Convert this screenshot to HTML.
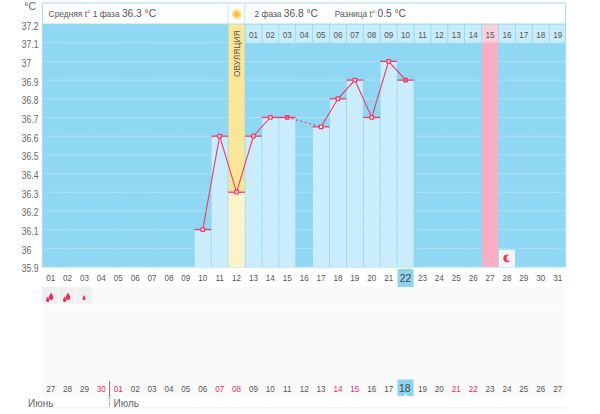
<!DOCTYPE html>
<html><head><meta charset="utf-8"><style>
html,body{margin:0;padding:0;background:#fff;width:600px;height:414px;overflow:hidden;font-family:"Liberation Sans",sans-serif}
</style></head><body>
<div style="position:relative;width:600px;height:414px">
<svg width="600" height="414" viewBox="0 0 600 414" style="position:absolute;left:0;top:0">
<rect x="42" y="24.0" width="524" height="243.47" fill="#8fd7f2"/>
<line x1="42" y1="42.69" x2="566" y2="42.69" stroke="#eefaff" stroke-width="1" stroke-dasharray="1 1.75" opacity="0.85"/>
<line x1="42" y1="61.38" x2="566" y2="61.38" stroke="#eefaff" stroke-width="1" stroke-dasharray="1 1.75" opacity="0.85"/>
<line x1="42" y1="80.07" x2="566" y2="80.07" stroke="#eefaff" stroke-width="1" stroke-dasharray="1 1.75" opacity="0.85"/>
<line x1="42" y1="98.76" x2="566" y2="98.76" stroke="#eefaff" stroke-width="1" stroke-dasharray="1 1.75" opacity="0.85"/>
<line x1="42" y1="117.45" x2="566" y2="117.45" stroke="#eefaff" stroke-width="1" stroke-dasharray="1 1.75" opacity="0.85"/>
<line x1="42" y1="136.14" x2="566" y2="136.14" stroke="#eefaff" stroke-width="1" stroke-dasharray="1 1.75" opacity="0.85"/>
<line x1="42" y1="154.83" x2="566" y2="154.83" stroke="#eefaff" stroke-width="1" stroke-dasharray="1 1.75" opacity="0.85"/>
<line x1="42" y1="173.52" x2="566" y2="173.52" stroke="#eefaff" stroke-width="1" stroke-dasharray="1 1.75" opacity="0.85"/>
<line x1="42" y1="192.21" x2="566" y2="192.21" stroke="#eefaff" stroke-width="1" stroke-dasharray="1 1.75" opacity="0.85"/>
<line x1="42" y1="210.90" x2="566" y2="210.90" stroke="#eefaff" stroke-width="1" stroke-dasharray="1 1.75" opacity="0.85"/>
<line x1="42" y1="229.59" x2="566" y2="229.59" stroke="#eefaff" stroke-width="1" stroke-dasharray="1 1.75" opacity="0.85"/>
<line x1="42" y1="248.28" x2="566" y2="248.28" stroke="#eefaff" stroke-width="1" stroke-dasharray="1 1.75" opacity="0.85"/>
<line x1="42" y1="266.97" x2="566" y2="266.97" stroke="#eefaff" stroke-width="1" stroke-dasharray="1 1.75" opacity="0.85"/>
<rect x="228.50" y="24.0" width="16.10" height="242.97" fill="#fbe698"/>
<rect x="482.00" y="24.0" width="16.10" height="242.97" fill="#f8aec3"/>
<rect x="245.40" y="24.5" width="16.10" height="18.19" fill="#c9ecfa"/>
<rect x="262.30" y="24.5" width="16.10" height="18.19" fill="#c9ecfa"/>
<rect x="279.20" y="24.5" width="16.10" height="18.19" fill="#c9ecfa"/>
<rect x="296.10" y="24.5" width="16.10" height="18.19" fill="#c9ecfa"/>
<rect x="313.00" y="24.5" width="16.10" height="18.19" fill="#c9ecfa"/>
<rect x="329.90" y="24.5" width="16.10" height="18.19" fill="#c9ecfa"/>
<rect x="346.80" y="24.5" width="16.10" height="18.19" fill="#c9ecfa"/>
<rect x="363.70" y="24.5" width="16.10" height="18.19" fill="#c9ecfa"/>
<rect x="380.60" y="24.5" width="16.10" height="18.19" fill="#c9ecfa"/>
<rect x="397.50" y="24.5" width="16.10" height="18.19" fill="#c9ecfa"/>
<rect x="414.40" y="24.5" width="16.10" height="18.19" fill="#c9ecfa"/>
<rect x="431.30" y="24.5" width="16.10" height="18.19" fill="#c9ecfa"/>
<rect x="448.20" y="24.5" width="16.10" height="18.19" fill="#c9ecfa"/>
<rect x="465.10" y="24.5" width="16.10" height="18.19" fill="#c9ecfa"/>
<rect x="482.00" y="24.5" width="16.10" height="18.19" fill="#fbd1dc"/>
<rect x="498.90" y="24.5" width="16.10" height="18.19" fill="#c9ecfa"/>
<rect x="515.80" y="24.5" width="16.10" height="18.19" fill="#c9ecfa"/>
<rect x="532.70" y="24.5" width="16.10" height="18.19" fill="#c9ecfa"/>
<rect x="549.60" y="24.5" width="16.10" height="18.19" fill="#c9ecfa"/>
<rect x="194.70" y="229.59" width="16.10" height="37.38" fill="#cbedfb"/>
<rect x="211.60" y="136.14" width="16.10" height="130.83" fill="#cbedfb"/>
<rect x="228.50" y="192.21" width="16.10" height="74.76" fill="#fcf3cb"/>
<rect x="245.40" y="136.14" width="16.10" height="130.83" fill="#cbedfb"/>
<rect x="262.30" y="117.45" width="16.10" height="149.52" fill="#cbedfb"/>
<rect x="279.20" y="117.45" width="16.10" height="149.52" fill="#cbedfb"/>
<rect x="313.00" y="126.80" width="16.10" height="140.18" fill="#cbedfb"/>
<rect x="329.90" y="98.76" width="16.10" height="168.21" fill="#cbedfb"/>
<rect x="346.80" y="80.07" width="16.10" height="186.90" fill="#cbedfb"/>
<rect x="363.70" y="117.45" width="16.10" height="149.52" fill="#cbedfb"/>
<rect x="380.60" y="61.38" width="16.10" height="205.59" fill="#cbedfb"/>
<rect x="397.50" y="80.07" width="16.10" height="186.90" fill="#cbedfb"/>
<rect x="498.90" y="249.78" width="16.10" height="17.19" fill="#f5f4f4"/>
<circle cx="507.20" cy="258.30" r="3.9" fill="#ee3a6a"/>
<circle cx="509.50" cy="258.00" r="2.9" fill="#f5f4f4"/>
<line x1="194.30" y1="229.59" x2="211.20" y2="229.59" stroke="#ee3b68" stroke-width="1.3"/>
<line x1="211.20" y1="136.14" x2="228.10" y2="136.14" stroke="#ee3b68" stroke-width="1.3"/>
<line x1="228.10" y1="192.21" x2="245.00" y2="192.21" stroke="#ee3b68" stroke-width="1.3"/>
<line x1="245.00" y1="136.14" x2="261.90" y2="136.14" stroke="#ee3b68" stroke-width="1.3"/>
<line x1="261.90" y1="117.45" x2="278.80" y2="117.45" stroke="#ee3b68" stroke-width="1.3"/>
<line x1="278.80" y1="117.45" x2="295.70" y2="117.45" stroke="#ee3b68" stroke-width="1.3"/>
<line x1="312.60" y1="126.80" x2="329.50" y2="126.80" stroke="#ee3b68" stroke-width="1.3"/>
<line x1="329.50" y1="98.76" x2="346.40" y2="98.76" stroke="#ee3b68" stroke-width="1.3"/>
<line x1="346.40" y1="80.07" x2="363.30" y2="80.07" stroke="#ee3b68" stroke-width="1.3"/>
<line x1="363.30" y1="117.45" x2="380.20" y2="117.45" stroke="#ee3b68" stroke-width="1.3"/>
<line x1="380.20" y1="61.38" x2="397.10" y2="61.38" stroke="#ee3b68" stroke-width="1.3"/>
<line x1="397.10" y1="80.07" x2="414.00" y2="80.07" stroke="#ee3b68" stroke-width="1.3"/>
<polyline points="202.75,229.59 219.65,136.14 236.55,192.21 253.45,136.14 270.35,117.45 287.25,117.45" fill="none" stroke="#ee3b68" stroke-width="1.1"/>
<polyline points="321.05,126.80 337.95,98.76 354.85,80.07 371.75,117.45 388.65,61.38 405.55,80.07" fill="none" stroke="#ee3b68" stroke-width="1.1"/>
<line x1="287.25" y1="117.45" x2="321.05" y2="126.80" stroke="#ee3b68" stroke-width="1.1" stroke-dasharray="2 2.5"/>
<rect x="200.35" y="227.19" width="4.8" height="4.8" rx="1" fill="#ee3b68"/>
<rect x="201.65" y="228.49" width="2.2" height="2.2" fill="#fff"/>
<rect x="217.25" y="133.74" width="4.8" height="4.8" rx="1" fill="#ee3b68"/>
<rect x="218.55" y="135.04" width="2.2" height="2.2" fill="#fff"/>
<rect x="234.15" y="189.81" width="4.8" height="4.8" rx="1" fill="#ee3b68"/>
<rect x="235.45" y="191.11" width="2.2" height="2.2" fill="#fff"/>
<rect x="251.05" y="133.74" width="4.8" height="4.8" rx="1" fill="#ee3b68"/>
<rect x="252.35" y="135.04" width="2.2" height="2.2" fill="#fff"/>
<rect x="267.95" y="115.05" width="4.8" height="4.8" rx="1" fill="#ee3b68"/>
<rect x="269.25" y="116.35" width="2.2" height="2.2" fill="#fff"/>
<rect x="284.85" y="115.05" width="4.8" height="4.8" rx="1" fill="#ee3b68"/>
<rect x="286.15" y="116.35" width="2.2" height="2.2" fill="#f47096"/>
<rect x="318.65" y="124.40" width="4.8" height="4.8" rx="1" fill="#ee3b68"/>
<rect x="319.95" y="125.70" width="2.2" height="2.2" fill="#fff"/>
<rect x="335.55" y="96.36" width="4.8" height="4.8" rx="1" fill="#ee3b68"/>
<rect x="336.85" y="97.66" width="2.2" height="2.2" fill="#fff"/>
<rect x="352.45" y="77.67" width="4.8" height="4.8" rx="1" fill="#ee3b68"/>
<rect x="353.75" y="78.97" width="2.2" height="2.2" fill="#fff"/>
<rect x="369.35" y="115.05" width="4.8" height="4.8" rx="1" fill="#ee3b68"/>
<rect x="370.65" y="116.35" width="2.2" height="2.2" fill="#fff"/>
<rect x="386.25" y="58.98" width="4.8" height="4.8" rx="1" fill="#ee3b68"/>
<rect x="387.55" y="60.28" width="2.2" height="2.2" fill="#fff"/>
<rect x="403.15" y="77.67" width="4.8" height="4.8" rx="1" fill="#ee3b68"/>
<rect x="404.45" y="78.97" width="2.2" height="2.2" fill="#f47096"/>
<rect x="42.5" y="3" width="523" height="21.00" fill="#fff" stroke="#a3dcf4" stroke-width="1"/>
<line x1="227.90" y1="3.5" x2="227.90" y2="24.0" stroke="#bde6f7" stroke-width="1"/>
<line x1="244.80" y1="3.5" x2="244.80" y2="24.0" stroke="#bde6f7" stroke-width="1"/>
<circle cx="236.80" cy="14.2" r="5.2" fill="#fdeab0"/>
<circle cx="236.80" cy="14.2" r="4.0" fill="none" stroke="#f9d476" stroke-width="1" stroke-dasharray="1 1"/>
<circle cx="236.80" cy="14.2" r="2.9" fill="#f5c141"/>
<line x1="42.5" y1="24.0" x2="42.5" y2="266.97" stroke="#a3dcf4" stroke-width="1"/>
<line x1="565.5" y1="24.0" x2="565.5" y2="266.97" stroke="#a3dcf4" stroke-width="1"/>
<text transform="translate(239.85,77) rotate(-90)" font-family="Liberation Sans" font-size="9.6" fill="#555" textLength="46.5" lengthAdjust="spacingAndGlyphs">ОВУЛЯЦИЯ</text>
<rect x="397.50" y="269" width="16.10" height="18" fill="#8fd4ef"/>
<rect x="42" y="287" width="524" height="110" fill="#fafafa"/>
<rect x="42.30" y="287" width="15.6" height="16.6" fill="#efefef"/>
<rect x="59.20" y="287" width="15.6" height="16.6" fill="#efefef"/>
<rect x="76.10" y="287" width="15.6" height="16.6" fill="#efefef"/>
<line x1="42" y1="304.7" x2="566" y2="304.7" stroke="#fff" stroke-width="1"/>
<rect x="397.50" y="379.5" width="16.10" height="16.5" fill="#8fd4ef"/>
<path d="M403.55,396 L405.55,394 L407.55,396Z" fill="#fff"/>
<path d="M51.10,292.50 C51.70,294.00 53.50,296.16 53.50,297.60 A2.40,2.40 0 0 1 48.70,297.60 C48.70,296.16 50.50,294.00 51.10,292.50Z" fill="#ef2a5c"/>
<path d="M47.75,296.50 C48.35,298.00 49.50,299.15 49.50,300.20 A1.75,1.75 0 0 1 46.00,300.20 C46.00,299.15 47.15,298.00 47.75,296.50Z" fill="#ef2a5c"/>
<path d="M68.00,292.50 C68.60,294.00 70.40,296.16 70.40,297.60 A2.40,2.40 0 0 1 65.60,297.60 C65.60,296.16 67.40,294.00 68.00,292.50Z" fill="#ef2a5c"/>
<path d="M64.65,296.50 C65.25,298.00 66.40,299.15 66.40,300.20 A1.75,1.75 0 0 1 62.90,300.20 C62.90,299.15 64.05,298.00 64.65,296.50Z" fill="#ef2a5c"/>
<path d="M84.00,295.00 C84.60,296.50 85.50,297.60 85.50,298.50 A1.50,1.50 0 0 1 82.50,298.50 C82.50,297.60 83.40,296.50 84.00,295.00Z" fill="#ef2a5c"/>
<line x1="109.6" y1="381" x2="109.6" y2="397" stroke="#777" stroke-width="1"/>
<line x1="109.6" y1="398" x2="109.6" y2="408" stroke="#777" stroke-width="1" stroke-dasharray="1 1.5"/>
<line x1="42" y1="407.8" x2="566" y2="407.8" stroke="#eee" stroke-width="1"/>
</svg>
<svg width="600" height="414" style="position:absolute;left:0;top:0" font-family="Liberation Sans"><text transform="translate(21.80,29.50) scale(0.84,1)" font-size="10.2" fill="#666" text-anchor="start" >37.2</text>
<text transform="translate(21.80,48.19) scale(0.84,1)" font-size="10.2" fill="#666" text-anchor="start" >37.1</text>
<text transform="translate(21.80,66.88) scale(0.84,1)" font-size="10.2" fill="#666" text-anchor="start" >37</text>
<text transform="translate(21.80,85.57) scale(0.84,1)" font-size="10.2" fill="#666" text-anchor="start" >36.9</text>
<text transform="translate(21.80,104.26) scale(0.84,1)" font-size="10.2" fill="#666" text-anchor="start" >36.8</text>
<text transform="translate(21.80,122.95) scale(0.84,1)" font-size="10.2" fill="#666" text-anchor="start" >36.7</text>
<text transform="translate(21.80,141.64) scale(0.84,1)" font-size="10.2" fill="#666" text-anchor="start" >36.6</text>
<text transform="translate(21.80,160.33) scale(0.84,1)" font-size="10.2" fill="#666" text-anchor="start" >36.5</text>
<text transform="translate(21.80,179.02) scale(0.84,1)" font-size="10.2" fill="#666" text-anchor="start" >36.4</text>
<text transform="translate(21.80,197.71) scale(0.84,1)" font-size="10.2" fill="#666" text-anchor="start" >36.3</text>
<text transform="translate(21.80,216.40) scale(0.84,1)" font-size="10.2" fill="#666" text-anchor="start" >36.2</text>
<text transform="translate(21.80,235.09) scale(0.84,1)" font-size="10.2" fill="#666" text-anchor="start" >36.1</text>
<text transform="translate(21.80,253.78) scale(0.84,1)" font-size="10.2" fill="#666" text-anchor="start" >36</text>
<text transform="translate(21.80,272.47) scale(0.84,1)" font-size="10.2" fill="#666" text-anchor="start" >35.9</text>
<text transform="translate(36.00,10.20) scale(1.0,1)" font-size="10.5" fill="#666" text-anchor="end" >°C</text>
<text x="48.6" y="17.2" fill="#555"><tspan font-size="8.4">Средняя t° 1 фаза </tspan><tspan font-size="10.2">36.3 °C</tspan></text>
<text x="254.5" y="17.2" fill="#555"><tspan font-size="8.4">2 фаза </tspan><tspan font-size="10.2">36.8 °C</tspan></text>
<text x="334.7" y="17.2" fill="#555"><tspan font-size="8.4">Разница t° </tspan><tspan font-size="10.2">0.5 °C</tspan></text>
<text transform="translate(253.45,38.30) scale(0.82,1)" font-size="9.9" fill="#555" text-anchor="middle" >01</text>
<text transform="translate(270.35,38.30) scale(0.82,1)" font-size="9.9" fill="#555" text-anchor="middle" >02</text>
<text transform="translate(287.25,38.30) scale(0.82,1)" font-size="9.9" fill="#555" text-anchor="middle" >03</text>
<text transform="translate(304.15,38.30) scale(0.82,1)" font-size="9.9" fill="#555" text-anchor="middle" >04</text>
<text transform="translate(321.05,38.30) scale(0.82,1)" font-size="9.9" fill="#555" text-anchor="middle" >05</text>
<text transform="translate(337.95,38.30) scale(0.82,1)" font-size="9.9" fill="#555" text-anchor="middle" >06</text>
<text transform="translate(354.85,38.30) scale(0.82,1)" font-size="9.9" fill="#555" text-anchor="middle" >07</text>
<text transform="translate(371.75,38.30) scale(0.82,1)" font-size="9.9" fill="#555" text-anchor="middle" >08</text>
<text transform="translate(388.65,38.30) scale(0.82,1)" font-size="9.9" fill="#555" text-anchor="middle" >09</text>
<text transform="translate(405.55,38.30) scale(0.82,1)" font-size="9.9" fill="#555" text-anchor="middle" >10</text>
<text transform="translate(422.45,38.30) scale(0.82,1)" font-size="9.9" fill="#555" text-anchor="middle" >11</text>
<text transform="translate(439.35,38.30) scale(0.82,1)" font-size="9.9" fill="#555" text-anchor="middle" >12</text>
<text transform="translate(456.25,38.30) scale(0.82,1)" font-size="9.9" fill="#555" text-anchor="middle" >13</text>
<text transform="translate(473.15,38.30) scale(0.82,1)" font-size="9.9" fill="#555" text-anchor="middle" >14</text>
<text transform="translate(490.05,38.30) scale(0.82,1)" font-size="9.9" fill="#555" text-anchor="middle" >15</text>
<text transform="translate(506.95,38.30) scale(0.82,1)" font-size="9.9" fill="#555" text-anchor="middle" >16</text>
<text transform="translate(523.85,38.30) scale(0.82,1)" font-size="9.9" fill="#555" text-anchor="middle" >17</text>
<text transform="translate(540.75,38.30) scale(0.82,1)" font-size="9.9" fill="#555" text-anchor="middle" >18</text>
<text transform="translate(557.65,38.30) scale(0.82,1)" font-size="9.9" fill="#555" text-anchor="middle" >19</text>
<text transform="translate(50.65,281.20) scale(0.82,1)" font-size="9.9" fill="#555" text-anchor="middle" >01</text>
<text transform="translate(67.55,281.20) scale(0.82,1)" font-size="9.9" fill="#555" text-anchor="middle" >02</text>
<text transform="translate(84.45,281.20) scale(0.82,1)" font-size="9.9" fill="#555" text-anchor="middle" >03</text>
<text transform="translate(101.35,281.20) scale(0.82,1)" font-size="9.9" fill="#555" text-anchor="middle" >04</text>
<text transform="translate(118.25,281.20) scale(0.82,1)" font-size="9.9" fill="#555" text-anchor="middle" >05</text>
<text transform="translate(135.15,281.20) scale(0.82,1)" font-size="9.9" fill="#555" text-anchor="middle" >06</text>
<text transform="translate(152.05,281.20) scale(0.82,1)" font-size="9.9" fill="#555" text-anchor="middle" >07</text>
<text transform="translate(168.95,281.20) scale(0.82,1)" font-size="9.9" fill="#555" text-anchor="middle" >08</text>
<text transform="translate(185.85,281.20) scale(0.82,1)" font-size="9.9" fill="#555" text-anchor="middle" >09</text>
<text transform="translate(202.75,281.20) scale(0.82,1)" font-size="9.9" fill="#555" text-anchor="middle" >10</text>
<text transform="translate(219.65,281.20) scale(0.82,1)" font-size="9.9" fill="#555" text-anchor="middle" >11</text>
<text transform="translate(236.55,281.20) scale(0.82,1)" font-size="9.9" fill="#555" text-anchor="middle" >12</text>
<text transform="translate(253.45,281.20) scale(0.82,1)" font-size="9.9" fill="#555" text-anchor="middle" >13</text>
<text transform="translate(270.35,281.20) scale(0.82,1)" font-size="9.9" fill="#555" text-anchor="middle" >14</text>
<text transform="translate(287.25,281.20) scale(0.82,1)" font-size="9.9" fill="#555" text-anchor="middle" >15</text>
<text transform="translate(304.15,281.20) scale(0.82,1)" font-size="9.9" fill="#555" text-anchor="middle" >16</text>
<text transform="translate(321.05,281.20) scale(0.82,1)" font-size="9.9" fill="#555" text-anchor="middle" >17</text>
<text transform="translate(337.95,281.20) scale(0.82,1)" font-size="9.9" fill="#555" text-anchor="middle" >18</text>
<text transform="translate(354.85,281.20) scale(0.82,1)" font-size="9.9" fill="#555" text-anchor="middle" >19</text>
<text transform="translate(371.75,281.20) scale(0.82,1)" font-size="9.9" fill="#555" text-anchor="middle" >20</text>
<text transform="translate(388.65,281.20) scale(0.82,1)" font-size="9.9" fill="#555" text-anchor="middle" >21</text>
<text transform="translate(405.55,281.50) scale(1.0,1)" font-size="10.5" fill="#444" text-anchor="middle" >22</text>
<text transform="translate(422.45,281.20) scale(0.82,1)" font-size="9.9" fill="#555" text-anchor="middle" >23</text>
<text transform="translate(439.35,281.20) scale(0.82,1)" font-size="9.9" fill="#555" text-anchor="middle" >24</text>
<text transform="translate(456.25,281.20) scale(0.82,1)" font-size="9.9" fill="#555" text-anchor="middle" >25</text>
<text transform="translate(473.15,281.20) scale(0.82,1)" font-size="9.9" fill="#555" text-anchor="middle" >26</text>
<text transform="translate(490.05,281.20) scale(0.82,1)" font-size="9.9" fill="#555" text-anchor="middle" >27</text>
<text transform="translate(506.95,281.20) scale(0.82,1)" font-size="9.9" fill="#555" text-anchor="middle" >28</text>
<text transform="translate(523.85,281.20) scale(0.82,1)" font-size="9.9" fill="#555" text-anchor="middle" >29</text>
<text transform="translate(540.75,281.20) scale(0.82,1)" font-size="9.9" fill="#555" text-anchor="middle" >30</text>
<text transform="translate(557.65,281.20) scale(0.82,1)" font-size="9.9" fill="#555" text-anchor="middle" >31</text>
<text transform="translate(50.65,392.00) scale(0.82,1)" font-size="9.9" fill="#555" text-anchor="middle" >27</text>
<text transform="translate(67.55,392.00) scale(0.82,1)" font-size="9.9" fill="#555" text-anchor="middle" >28</text>
<text transform="translate(84.45,392.00) scale(0.82,1)" font-size="9.9" fill="#555" text-anchor="middle" >29</text>
<text transform="translate(101.35,392.00) scale(0.82,1)" font-size="9.9" fill="#ef2a5c" text-anchor="middle" >30</text>
<text transform="translate(118.25,392.00) scale(0.82,1)" font-size="9.9" fill="#ef2a5c" text-anchor="middle" >01</text>
<text transform="translate(135.15,392.00) scale(0.82,1)" font-size="9.9" fill="#555" text-anchor="middle" >02</text>
<text transform="translate(152.05,392.00) scale(0.82,1)" font-size="9.9" fill="#555" text-anchor="middle" >03</text>
<text transform="translate(168.95,392.00) scale(0.82,1)" font-size="9.9" fill="#555" text-anchor="middle" >04</text>
<text transform="translate(185.85,392.00) scale(0.82,1)" font-size="9.9" fill="#555" text-anchor="middle" >05</text>
<text transform="translate(202.75,392.00) scale(0.82,1)" font-size="9.9" fill="#555" text-anchor="middle" >06</text>
<text transform="translate(219.65,392.00) scale(0.82,1)" font-size="9.9" fill="#ef2a5c" text-anchor="middle" >07</text>
<text transform="translate(236.55,392.00) scale(0.82,1)" font-size="9.9" fill="#ef2a5c" text-anchor="middle" >08</text>
<text transform="translate(253.45,392.00) scale(0.82,1)" font-size="9.9" fill="#555" text-anchor="middle" >09</text>
<text transform="translate(270.35,392.00) scale(0.82,1)" font-size="9.9" fill="#555" text-anchor="middle" >10</text>
<text transform="translate(287.25,392.00) scale(0.82,1)" font-size="9.9" fill="#555" text-anchor="middle" >11</text>
<text transform="translate(304.15,392.00) scale(0.82,1)" font-size="9.9" fill="#555" text-anchor="middle" >12</text>
<text transform="translate(321.05,392.00) scale(0.82,1)" font-size="9.9" fill="#555" text-anchor="middle" >13</text>
<text transform="translate(337.95,392.00) scale(0.82,1)" font-size="9.9" fill="#ef2a5c" text-anchor="middle" >14</text>
<text transform="translate(354.85,392.00) scale(0.82,1)" font-size="9.9" fill="#ef2a5c" text-anchor="middle" >15</text>
<text transform="translate(371.75,392.00) scale(0.82,1)" font-size="9.9" fill="#555" text-anchor="middle" >16</text>
<text transform="translate(388.65,392.00) scale(0.82,1)" font-size="9.9" fill="#555" text-anchor="middle" >17</text>
<text transform="translate(404.75,392.00) scale(1.0,1)" font-size="10.5" fill="#444" text-anchor="middle" >18</text>
<text transform="translate(422.45,392.00) scale(0.82,1)" font-size="9.9" fill="#555" text-anchor="middle" >19</text>
<text transform="translate(439.35,392.00) scale(0.82,1)" font-size="9.9" fill="#555" text-anchor="middle" >20</text>
<text transform="translate(456.25,392.00) scale(0.82,1)" font-size="9.9" fill="#ef2a5c" text-anchor="middle" >21</text>
<text transform="translate(473.15,392.00) scale(0.82,1)" font-size="9.9" fill="#ef2a5c" text-anchor="middle" >22</text>
<text transform="translate(490.05,392.00) scale(0.82,1)" font-size="9.9" fill="#555" text-anchor="middle" >23</text>
<text transform="translate(506.95,392.00) scale(0.82,1)" font-size="9.9" fill="#555" text-anchor="middle" >24</text>
<text transform="translate(523.85,392.00) scale(0.82,1)" font-size="9.9" fill="#555" text-anchor="middle" >25</text>
<text transform="translate(540.75,392.00) scale(0.82,1)" font-size="9.9" fill="#555" text-anchor="middle" >26</text>
<text transform="translate(557.65,392.00) scale(0.82,1)" font-size="9.9" fill="#555" text-anchor="middle" >27</text>
<text x="28" y="406.5" font-size="10" fill="#666">Июнь</text>
<text x="113.5" y="406.5" font-size="10" fill="#666">Июль</text></svg>
</div>
</body></html>
